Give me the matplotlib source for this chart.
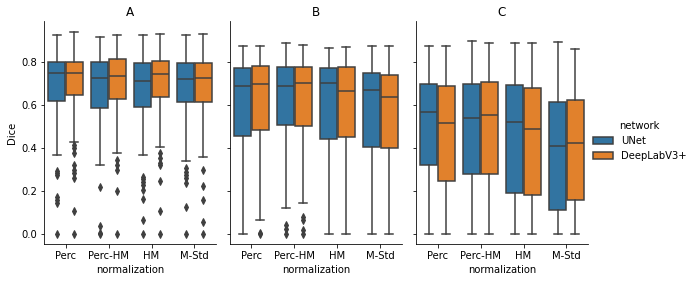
import matplotlib as mpl
mpl.use('Agg')
import matplotlib.pyplot as plt
from matplotlib.patches import Rectangle

# box statistics (Dice per normalization)
panels = ["A", "B", "C"]
normalizations = ["Perc", "Perc-HM", "HM", "M-Std"]
networks = ["UNet", "DeepLabV3+"]

# panel A
a_unet_lo = [0.370, 0.320, 0.370, 0.342]
a_unet_q1 = [0.621, 0.589, 0.593, 0.614]
a_unet_med = [0.752, 0.728, 0.714, 0.722]
a_unet_q3 = [0.803, 0.800, 0.795, 0.798]
a_unet_hi = [0.927, 0.920, 0.927, 0.927]
a_unet_fliers = [[0.295, 0.285, 0.275, 0.174, 0.158, 0.143, 0.0],
                 [0.218, 0.039, 0.005, 0.0],
                 [0.267, 0.255, 0.244, 0.228, 0.205, 0.162, 0.065, 0.0],
                 [0.306, 0.290, 0.275, 0.260, 0.239, 0.124, 0.0]]
a_dlv_lo = [0.430, 0.379, 0.407, 0.360]
a_dlv_q1 = [0.649, 0.627, 0.640, 0.614]
a_dlv_med = [0.749, 0.738, 0.746, 0.728]
a_dlv_q3 = [0.803, 0.814, 0.805, 0.798]
a_dlv_hi = [0.943, 0.926, 0.932, 0.932]
a_dlv_fliers = [[0.415, 0.400, 0.376, 0.321, 0.298, 0.283, 0.260, 0.106, 0.0],
                [0.345, 0.321, 0.298, 0.199, 0.0],
                [0.376, 0.353, 0.329, 0.321, 0.247, 0.106, 0.0],
                [0.300, 0.225, 0.158, 0.055, 0.0]]

# panel B
b_unet_lo = [0.0, 0.123, 0.0, 0.0]
b_unet_q1 = [0.458, 0.509, 0.444, 0.407]
b_unet_med = [0.690, 0.690, 0.705, 0.671]
b_unet_q3 = [0.772, 0.777, 0.772, 0.752]
b_unet_hi = [0.877, 0.892, 0.867, 0.877]
b_unet_fliers = [[], [0.042, 0.022, 0.0], [], []]
b_dlv_lo = [0.065, 0.146, 0.0, 0.0]
b_dlv_q1 = [0.483, 0.503, 0.450, 0.402]
b_dlv_med = [0.700, 0.705, 0.668, 0.640]
b_dlv_q3 = [0.781, 0.777, 0.777, 0.742]
b_dlv_hi = [0.877, 0.882, 0.873, 0.877]
b_dlv_fliers = [[0.005, 0.0], [0.078, 0.065, 0.019, 0.0], [], []]

# panel C
c_unet_lo = [0.0, 0.0, 0.0, 0.0]
c_unet_q1 = [0.323, 0.277, 0.193, 0.113]
c_unet_med = [0.569, 0.541, 0.523, 0.410]
c_unet_q3 = [0.700, 0.700, 0.694, 0.615]
c_unet_hi = [0.877, 0.901, 0.890, 0.896]
c_unet_fliers = [[], [], [], []]
c_dlv_lo = [0.0, 0.0, 0.0, 0.0]
c_dlv_q1 = [0.248, 0.277, 0.180, 0.160]
c_dlv_med = [0.519, 0.556, 0.491, 0.425]
c_dlv_q3 = [0.690, 0.710, 0.680, 0.624]
c_dlv_hi = [0.877, 0.890, 0.890, 0.863]
c_dlv_fliers = [[], [], [], []]

data = {
    "A": [(a_unet_lo, a_unet_q1, a_unet_med, a_unet_q3, a_unet_hi, a_unet_fliers),
          (a_dlv_lo, a_dlv_q1, a_dlv_med, a_dlv_q3, a_dlv_hi, a_dlv_fliers)],
    "B": [(b_unet_lo, b_unet_q1, b_unet_med, b_unet_q3, b_unet_hi, b_unet_fliers),
          (b_dlv_lo, b_dlv_q1, b_dlv_med, b_dlv_q3, b_dlv_hi, b_dlv_fliers)],
    "C": [(c_unet_lo, c_unet_q1, c_unet_med, c_unet_q3, c_unet_hi, c_unet_fliers),
          (c_dlv_lo, c_dlv_q1, c_dlv_med, c_dlv_q3, c_dlv_hi, c_dlv_fliers)],
}

colors = ['#3274a1', '#e1812c']
gray = '#3f3f3f'
lw = 1.5

W, H = 697, 282
fig = plt.figure(figsize=(W / 72, H / 72), dpi=72)

ax_left = 44 / W
ax_w = 172 / W
ax_step = 186 / W
ax_bottom = (H - 244) / H
ax_h = (244 - 21.5) / H

axes = []
for i, p in enumerate(panels):
    ax = fig.add_axes([ax_left + i * ax_step, ax_bottom, ax_w, ax_h],
                      sharey=axes[0] if axes else None)
    axes.append(ax)
    for j, (lo, q1, med, q3, hi, fl) in enumerate(data[p]):
        stats = []
        for k in range(len(normalizations)):
            stats.append(dict(whislo=lo[k], q1=q1[k], med=med[k], q3=q3[k],
                              whishi=hi[k], fliers=fl[k]))
        pos = [k - 0.2 + 0.4 * j for k in range(len(normalizations))]
        ax.bxp(stats, positions=pos, widths=0.392, patch_artist=True,
               showfliers=True, manage_ticks=False,
               boxprops=dict(facecolor=colors[j], edgecolor=gray, linewidth=lw),
               medianprops=dict(color=gray, linewidth=lw),
               whiskerprops=dict(color=gray, linewidth=lw),
               capprops=dict(color=gray, linewidth=lw),
               flierprops=dict(marker='d', markerfacecolor=gray,
                               markeredgecolor=gray, markersize=5))
    ax.set_xlim(-0.5, len(normalizations) - 0.5)
    ax.set_xticks(range(len(normalizations)))
    ax.set_xticklabels(normalizations)
    ax.set_xlabel('normalization')
    ax.set_title(p)
    ax.spines['top'].set_visible(False)
    ax.spines['right'].set_visible(False)
    if i > 0:
        plt.setp(ax.get_yticklabels(), visible=False)

axes[0].set_ylim(-0.047, 0.99)
axes[0].set_yticks([0.0, 0.2, 0.4, 0.6, 0.8])
axes[0].set_ylabel('Dice')

handles = [Rectangle((0, 0), 0, 0, facecolor=c, edgecolor=gray, linewidth=lw)
           for c in colors]
fig.legend(handles, networks, title='network', loc='center left',
           bbox_to_anchor=(589 / W, 0.5), frameon=False, borderaxespad=0)

fig.savefig('out.png', dpi=72)
